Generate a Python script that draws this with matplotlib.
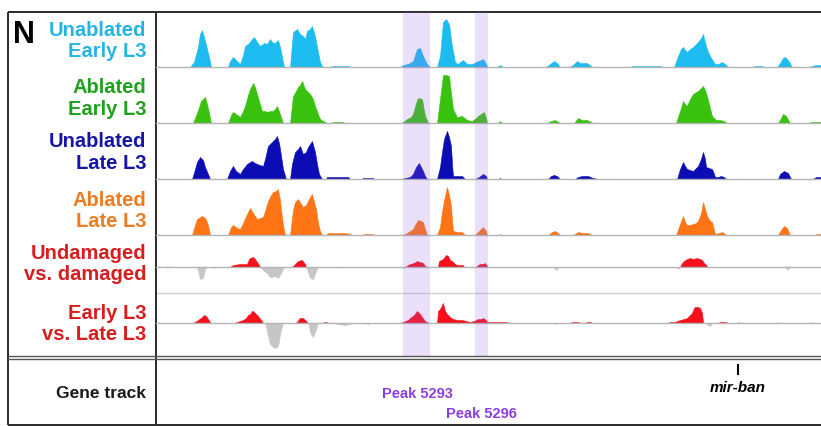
"""
Browser view of coverage tracks around the bantam locus: four CUT&RUN style
coverage tracks, two differential tracks and a gene annotation row.
"""
import numpy as np
import matplotlib
matplotlib.use("Agg")
import matplotlib.pyplot as plt

plt.rcParams['font.family'] = ['Liberation Sans', 'DejaVu Sans']

# ============================================================
# DATA  (coordinate, signal) along the displayed window
# ============================================================
WINDOW = (156, 821)

unablated_early = [
    (190, 0), (194, 5), (198, 20), (200, 33), (202, 37), (204, 30), (206, 22), (209, 10), (211, 0),
    (228, 0), (230, 6), (233, 10), (237, 6), (240, 3), (243, 12), (245, 21), (249, 24), (252, 28),
    (254, 30), (257, 25), (260, 21), (264, 24), (267, 23), (270, 28), (272, 25), (275, 24), (277, 26),
    (278, 27), (280, 20), (282, 10), (284, 0),
    (290, 0), (293, 35), (297, 38), (300, 33), (303, 31), (305, 28), (307, 36), (310, 38), (312, 41),
    (315, 31), (318, 15), (320, 5), (322, 1), (324, 0),
    (330, 0), (332, 1), (340, 1), (348, 1), (350, 0),
    (400, 0), (403, 2), (408, 3), (413, 6), (417, 18), (420, 19), (423, 11), (427, 3), (430, 0),
    (437, 0), (440, 11), (443, 45), (446, 48), (449, 43), (452, 21), (455, 5), (458, 3), (460, 5),
    (463, 7), (467, 3), (472, 3), (476, 5), (478, 6), (481, 7), (483, 8), (485, 5), (487, 1), (488, 0),
    (497, 0), (500, 2), (503, 0),
    (546, 0), (550, 3), (554, 6), (557, 4), (560, 0),
    (570, 0), (574, 3), (577, 6), (580, 4), (587, 4), (591, 1), (593, 0),
    (630, 0), (632, 1), (645, 1), (660, 1), (662, 0),
    (674, 0), (678, 11), (681, 18), (683, 20), (685, 17), (687, 15), (690, 18), (693, 20), (696, 23),
    (698, 25), (701, 29), (703, 33), (706, 21), (708, 15), (710, 11), (713, 6), (715, 3), (718, 3),
    (722, 5), (725, 3), (727, 1), (729, 0),
    (753, 0), (755, 1), (762, 1), (764, 0),
    (777, 0), (780, 4), (783, 9), (785, 10), (788, 7), (792, 0),
    (808, 0), (812, 1), (816, 2), (821, 2),
]

ablated_early = [
    (193, 0), (197, 10), (201, 22), (205, 26), (208, 15), (211, 0),
    (228, 0), (231, 8), (233, 11), (236, 9), (240, 6), (243, 12), (245, 17), (248, 28), (250, 34),
    (253, 40), (255, 36), (257, 29), (259, 22), (262, 12), (265, 12), (267, 11), (270, 12), (273, 12),
    (275, 14), (277, 17), (280, 9), (283, 0),
    (290, 0), (293, 27), (296, 32), (298, 36), (300, 38), (302, 42), (305, 34), (308, 31), (310, 29),
    (313, 24), (315, 17), (318, 9), (320, 4), (325, 1), (327, 0),
    (331, 0), (333, 1), (343, 1), (345, 0),
    (402, 0), (407, 4), (411, 6), (413, 9), (416, 20), (418, 25), (422, 24), (424, 12), (425, 7), (428, 0),
    (437, 0), (440, 24), (443, 48), (446, 48), (449, 47), (451, 30), (453, 14), (457, 6), (462, 7),
    (467, 3), (472, 2), (476, 5), (478, 7), (481, 9), (484, 11), (486, 5), (487, 0),
    (498, 0), (500, 2), (502, 0),
    (547, 0), (551, 2), (555, 3), (560, 0),
    (574, 0), (578, 5), (582, 3), (587, 3), (591, 1), (593, 0),
    (676, 0), (680, 12), (683, 22), (685, 19), (687, 17), (690, 24), (693, 29), (696, 31), (698, 32),
    (701, 35), (703, 37), (705, 33), (707, 27), (710, 15), (712, 7), (716, 3), (720, 3), (724, 2), (727, 0),
    (778, 0), (781, 5), (783, 9), (786, 7), (790, 0),
    (808, 0), (812, 1), (821, 1),
]

unablated_late = [
    (192, 0), (195, 10), (197, 17), (200, 22), (203, 19), (205, 12), (208, 5), (210, 0),
    (227, 0), (230, 8), (233, 13), (236, 8), (240, 5), (243, 10), (247, 15), (250, 17), (252, 18),
    (255, 16), (257, 15), (260, 14), (263, 13), (265, 20), (268, 33), (271, 36), (273, 38), (275, 40),
    (277, 43), (279, 36), (280, 30), (283, 10), (286, 0),
    (290, 0), (292, 15), (295, 27), (298, 30), (300, 33), (303, 25), (306, 27), (308, 32), (310, 35),
    (312, 38), (315, 27), (317, 15), (319, 5), (322, 0),
    (326, 0), (327, 2), (340, 2), (348, 2), (350, 0),
    (362, 0), (363, 1), (373, 1), (374, 0),
    (402, 0), (405, 1), (410, 2), (413, 5), (416, 12), (419, 16), (421, 12), (423, 8), (425, 3), (427, 0),
    (437, 0), (440, 12), (442, 27), (444, 40), (447, 48), (449, 42), (451, 33), (452, 15), (453, 3),
    (458, 3), (462, 3), (465, 0),
    (475, 0), (479, 2), (483, 5), (486, 3), (487, 0),
    (499, 0), (500, 1), (501, 0),
    (548, 0), (551, 3), (554, 4), (557, 3), (560, 0),
    (575, 0), (578, 2), (582, 3), (588, 3), (593, 1), (598, 0),
    (677, 0), (680, 10), (683, 17), (685, 13), (687, 10), (690, 9), (693, 8), (696, 11), (698, 13),
    (701, 20), (703, 27), (705, 20), (706, 12), (709, 11), (712, 10), (714, 5), (715, 2), (718, 2),
    (721, 3), (724, 2), (726, 0),
    (778, 0), (780, 5), (784, 8), (788, 6), (791, 0),
    (813, 0), (816, 2), (821, 2),
]

ablated_late = [
    (192, 0), (195, 10), (197, 16), (202, 19), (205, 17), (207, 13), (209, 5), (210, 0),
    (228, 0), (231, 8), (233, 10), (237, 7), (240, 6), (243, 12), (247, 21), (250, 27), (253, 22),
    (257, 16), (260, 17), (263, 18), (265, 24), (268, 34), (271, 40), (273, 43), (276, 44), (278, 46),
    (280, 35), (281, 26), (283, 10), (285, 0),
    (290, 0), (293, 25), (295, 33), (298, 36), (301, 31), (303, 28), (306, 30), (308, 34), (310, 38),
    (312, 41), (314, 33), (316, 26), (318, 12), (320, 4), (322, 0),
    (326, 0), (328, 2), (345, 2), (350, 1), (352, 0),
    (362, 0), (364, 1), (372, 1), (374, 0),
    (403, 0), (407, 2), (413, 6), (415, 10), (418, 15), (421, 14), (423, 13), (425, 6), (427, 0),
    (437, 0), (440, 8), (442, 23), (444, 35), (447, 48), (449, 40), (451, 29), (452, 15), (453, 4),
    (458, 3), (462, 3), (465, 0),
    (475, 0), (479, 4), (483, 8), (486, 4), (487, 0),
    (499, 0), (500, 1), (502, 0),
    (548, 0), (552, 3), (555, 4), (558, 2), (560, 0),
    (573, 0), (578, 3), (583, 2), (588, 2), (592, 0),
    (676, 0), (680, 11), (683, 19), (685, 13), (687, 10), (690, 10), (693, 11), (696, 12), (698, 14),
    (701, 22), (703, 33), (705, 26), (707, 19), (710, 14), (712, 13), (714, 5), (715, 1), (719, 2),
    (722, 3), (725, 1), (726, 0),
    (778, 0), (781, 5), (784, 9), (787, 7), (790, 0),
    (815, 0), (817, 1), (821, 1),
]

# differential tracks: positive = enriched (red), negative = depleted (grey)
undamaged_vs_damaged = [
    (165, 0), (167, 0.5), (172, 0),
    (197, 0), (199, -8), (200, -12), (203, -11), (205, -2), (207, 0),
    (212, 0), (213, -1), (215, 0),
    (230, 0), (233, 2), (240, 3), (247, 3), (249, 8), (250, 9), (253, 10), (255, 8), (257, 5), (259, 2), (260, 0),
    (262, -2), (264, -4), (267, -6), (270, -10), (272, -10), (275, -9), (278, -11), (280, -8), (282, -4), (284, 0),
    (291, 0), (293, 1), (296, 4), (298, 6), (302, 7), (305, 3), (306, 0),
    (307, -2), (310, -11), (313, -12), (316, -4), (318, 0),
    (335, 0), (340, -0.5), (346, 0), (372, 0), (374, -0.5), (376, 0),
    (402, 0), (403, -1), (405, 0), (408, 2), (410, 3), (414, 4), (417, 6), (420, 5), (423, 4), (425, 1), (427, 0),
    (438, 0), (439, 6), (443, 8), (446, 12), (448, 11), (450, 7), (452, 6), (455, 3), (457, 2), (463, 2), (464, 0),
    (476, 0), (478, 2), (480, 3), (483, 3), (485, 4), (487, 1), (488, 0),
    (553, 0), (556, -3), (559, 0),
    (676, 0), (678, -2), (680, 0), (682, 4), (684, 6), (687, 8), (690, 9), (693, 8), (697, 9), (700, 8),
    (702, 7), (704, 4), (706, 2), (708, 0),
    (783, 0), (785, 0.5), (786, 0), (787, -3), (789, -1), (791, 0),
]

early_vs_late = [
    (192, 0), (195, 1), (198, 3), (202, 6), (204, 8), (206, 7), (208, 4), (210, 1), (211, 0),
    (234, 0), (237, 1), (240, 2), (243, 3), (246, 5), (248, 8), (250, 9), (252, 12), (253, 12), (255, 10),
    (258, 7), (261, 3), (263, 0),
    (265, 0), (267, -8), (269, -18), (270, -21), (273, -24), (275, -25), (278, -23), (279, -18), (280, -11),
    (282, -3), (283, 0),
    (295, 0), (297, 1), (299, 4), (300, 5), (303, 5), (305, 3), (307, 1), (308, 0),
    (309, -3), (310, -9), (312, -13), (313, -14), (315, -9), (316, -6), (318, 0),
    (322, 0), (325, 1), (330, 0),
    (335, 0), (337, -1), (345, -2), (350, -1), (352, 0),
    (365, 0), (368, -1), (371, 0),
    (400, 0), (403, 1), (408, 3), (410, 5), (414, 8), (417, 12), (420, 9), (422, 6), (425, 2), (427, 1), (428, 0),
    (437, 0), (438, 12), (440, 14), (443, 20), (445, 12), (447, 9), (450, 6), (453, 4), (458, 3), (462, 3),
    (466, 2), (470, 1), (474, 2), (478, 4), (481, 4), (483, 5), (486, 3), (487, 1), (493, 1), (500, 1),
    (506, 1), (508, 0),
    (554, 0), (556, -1), (558, 0),
    (570, 0), (572, 1), (578, 1), (580, 0), (585, 0), (587, 1), (591, 1), (592, 0),
    (668, 0), (670, 1), (675, 1), (680, 3), (684, 4), (687, 5), (690, 8), (692, 10), (694, 15), (695, 16),
    (698, 16), (700, 15), (702, 10), (703, 1), (704, 0),
    (706, 0), (708, -2), (710, -3), (712, 0),
    (718, 0), (720, 1), (726, 1), (728, 0),
    (735, 0), (738, 0.5), (745, 0),
    (775, 0), (778, 0.5), (782, 0),
    (810, 0), (812, 0.5), (814, 0),
]

highlight_regions = [(403, 430), (475, 488)]
peak_names = ['Peak 5293', 'Peak 5296']
peak_label_pos = [417, 481]
gene_name = 'mir-ban'
gene_pos = 738

# ============================================================
# LAYOUT (pixels)
# ============================================================
W, H = 821, 427
LEFT, DIVIDER = 8, 156
TOP, BOTTOM = 13, 425.5

# (label, label colour, fill colour, data, top px, baseline px, bottom px)
TRACKS = [
    ('Unablated\nEarly L3', '#27b4e4', '#1cbcf0', unablated_early, 13, 68, 68),
    ('Ablated\nEarly L3', '#1fa01f', '#38c20e', ablated_early, 68, 124, 124),
    ('Unablated\nLate L3', '#1616a6', '#0c0cb4', unablated_late, 124, 180, 180),
    ('Ablated\nLate L3', '#ec7c20', '#ff7414', ablated_late, 180, 236, 236),
    ('Undamaged\nvs. damaged', '#d71e1e', '#f5101c', undamaged_vs_damaged, 236, 268, 294),
    ('Early L3\nvs. Late L3', '#d71e1e', '#f5101c', early_vs_late, 294, 324, 357),
]
LABEL_Y = [41, 98.5, 152.5, 211, 264, 324]
NEG_COLOR = '#c6c6c6'
BASE_COLOR = '#b4b4b4'
PURPLE = '#8b3ee0'


def fig_rect(x0, y0, x1, y1):
    """Pixel box (y measured from the top) -> figure fraction rect."""
    return [x0 / W, 1 - y1 / H, (x1 - x0) / W, (y1 - y0) / H]


fig = plt.figure(figsize=(W / 100, H / 100), dpi=100)

# frame / text layer in pixel coordinates
frame = fig.add_axes([0, 0, 1, 1], zorder=0)
frame.set_xlim(0, W)
frame.set_ylim(H, 0)
frame.axis('off')

for i, (label, lab_col, fill_col, data, y_top, y_base, y_bot) in enumerate(TRACKS):
    pos = np.array([p for p, _ in data], dtype=float)
    sig = np.array([v for _, v in data], dtype=float)

    ax = fig.add_axes(fig_rect(DIVIDER, y_top, W, y_bot), zorder=1)
    ax.set_xlim(*WINDOW)
    ax.set_ylim(-(y_bot - y_base), y_base - y_top)
    ax.axis('off')

    ax.fill_between(pos, 0, np.clip(sig, 0, None), color=fill_col, linewidth=0.4,
                    edgecolor=fill_col)
    if sig.min() < 0:
        ax.fill_between(pos, 0, np.clip(sig, None, 0), color=NEG_COLOR, linewidth=0.4,
                        edgecolor=NEG_COLOR)
    ax.axhline(0, color=BASE_COLOR, lw=1.0, clip_on=False, zorder=3)

    frame.text(146, LABEL_Y[i], label, color=lab_col, fontsize=14.5, fontweight='bold',
               ha='right', va='center', multialignment='right', linespacing=1.18)

# light separator between the two differential tracks
frame.plot([DIVIDER, W], [294, 294], color='#d2d2d2', lw=1.0)

# translucent highlight over the two called peaks
hl = fig.add_axes(fig_rect(DIVIDER, TOP, W, 357), zorder=2)
hl.set_xlim(*WINDOW)
hl.set_ylim(0, 1)
hl.axis('off')
hl.patch.set_alpha(0)
for x0, x1 in highlight_regions:
    hl.axvspan(x0, x1, color='#9a66e6', alpha=0.2, lw=0)

# gene track row
gene_ax = fig.add_axes(fig_rect(DIVIDER, 361, W, BOTTOM), zorder=1)
gene_ax.set_xlim(*WINDOW)
gene_ax.set_ylim(BOTTOM, 361)
gene_ax.axis('off')
gene_ax.plot([gene_pos, gene_pos], [366, 375], color='black', lw=1.5)
gene_ax.text(gene_pos, 392, gene_name, fontsize=11, fontweight='bold', style='italic',
             ha='center', va='baseline')
for name, x, yb in zip(peak_names, peak_label_pos, [398, 418]):
    gene_ax.text(x, yb, name, color=PURPLE, fontsize=10.5, fontweight='bold',
                 ha='center', va='baseline')

# panel frame and dividers
line_kw = dict(color='#2a2a2a', lw=1.4, solid_capstyle='butt')
frame.plot([LEFT, W], [TOP, TOP], **line_kw)
frame.plot([LEFT, W], [BOTTOM, BOTTOM], **line_kw)
frame.plot([LEFT, LEFT], [TOP, BOTTOM], **line_kw)
frame.plot([DIVIDER, DIVIDER], [TOP, BOTTOM], **line_kw)
frame.plot([LEFT, W], [356.5, 356.5], color='#555555', lw=1.0)
frame.plot([LEFT, W], [360.2, 360.2], color='#555555', lw=1.0)

frame.text(13, 43, 'N', fontsize=22, fontweight='bold', ha='left', va='baseline')
frame.text(146, 398, 'Gene track', fontsize=12.5, fontweight='bold', ha='right', va='baseline',
           color='#1a1a1a')

fig.savefig('out.png', dpi=100, facecolor='white')
